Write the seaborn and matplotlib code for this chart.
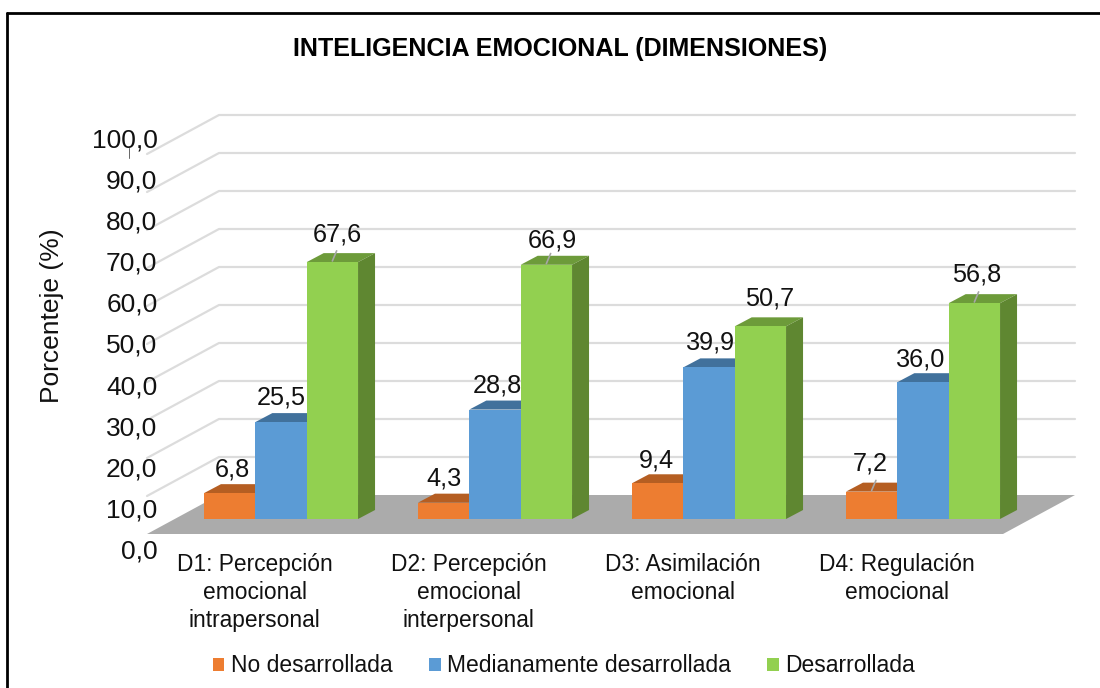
# inteligencia emocional por dimensiones, fake 3D columns on top of a seaborn barplot

import matplotlib
matplotlib.use("Agg")
import matplotlib.pyplot as plt
from matplotlib.lines import Line2D
from matplotlib.patches import Polygon
from matplotlib.transforms import ScaledTranslation
import pandas as pd
import seaborn as sns

categories = ["D1: Percepción\nemocional\nintrapersonal",
              "D2: Percepción\nemocional\ninterpersonal",
              "D3: Asimilación\nemocional",
              "D4: Regulación\nemocional"]
levels = ["No desarrollada", "Medianamente desarrollada", "Desarrollada"]
no_desarrollada = [6.8, 4.3, 9.4, 7.2]
medianamente = [25.5, 28.8, 39.9, 36.0]
desarrollada = [67.6, 66.9, 50.7, 56.8]
y_ticks = [0, 10, 20, 30, 40, 50, 60, 70, 80, 90, 100]

front_colors = ["#ED7D31", "#5B9BD5", "#92D050"]
top_colors = ["#B55E22", "#41719C", "#6D9B3A"]
side_colors = ["#B55E22", "#41719C", "#5F8731"]

# hand nudges for the data labels, pixels (right, down), one row per level
label_nudge = [[(1, 4), (-2, 4), (-3, 5), (-4, 0)],
               [(-2, 3), (0, 4), (-1, 3), (-4, 5)],
               [(3, 0), (4, 4), (7, 0), (0, -1)]]

W, H = 1100, 688
PX_X = 214.0  # pixels per category
PX_Y = 3.8    # pixels per percent
X0, Y0 = 281, 519  # pixel of category 0 centre, bar base
TEXT = "#111111"


def to_x(px):
    return (px - X0) / PX_X


def to_y(py):
    return (Y0 - py) / PX_Y


df = pd.DataFrame({
    "categoria": categories * 3,
    "nivel": [l for l in levels for _ in categories],
    "valor": no_desarrollada + medianamente + desarrollada,
})

sns.set_theme(style="white")
plt.rcParams["font.family"] = ["Liberation Sans", "DejaVu Sans"]

fig = plt.figure(figsize=(W / 100, H / 100), dpi=100)

left, right, bottom, top = 174, 1030, 534, 100
ax = fig.add_axes([left / W, 1 - bottom / H, (right - left) / W, (bottom - top) / H])
sns.barplot(data=df, x="categoria", y="valor", hue="nivel", hue_order=levels,
            palette=front_colors, width=0.72, gap=0, saturation=1, errorbar=None,
            linewidth=0, ax=ax, zorder=3)
ax.set_xlim(to_x(left), to_x(right))
ax.set_ylim(to_y(bottom), to_y(top))
ax.patch.set_visible(False)
sns.despine(ax=ax, left=True, bottom=True)
ax.set_xlabel("")
ax.set_ylabel("")
ax.set_yticks([])
ax.tick_params(axis="x", length=0, pad=13.6, labelsize=16.4, labelcolor=TEXT)
# category labels sit left of the bars, centred on the floor
shift = ScaledTranslation(-26.5 / 100, 0, fig.dpi_scale_trans)
for lab in ax.get_xticklabels():
    lab.set_linespacing(1.29)
    lab.set_transform(lab.get_transform() + shift)

# depth of the box and of the bars, in data units
bar_dx, bar_dy = 17 / PX_X, 9 / PX_Y
back_x0, back_x1 = to_x(219), to_x(1075)
front_x0, front_x1 = to_x(147), to_x(1003)
front_y0, back_y0 = to_y(534), to_y(495)

# walls and floor
for v in y_ticks[1:]:
    ax.plot([front_x0, back_x0, back_x1], [front_y0 + v, back_y0 + v, back_y0 + v],
            color="#DCDCDC", lw=1.6, clip_on=False, zorder=1)
ax.add_patch(Polygon([(front_x0, front_y0), (front_x1, front_y0), (back_x1, back_y0), (back_x0, back_y0)],
                     closed=True, fc="#ABABAB", ec="none", clip_on=False, zorder=1.5))

# top and side faces of each column
for i, cont in enumerate(ax.containers):
    for j, bar in enumerate(cont):
        x0, x1 = bar.get_x(), bar.get_x() + bar.get_width()
        h = bar.get_height()
        ax.add_patch(Polygon([(x0, h), (x1, h), (x1 + bar_dx, h + bar_dy), (x0 + bar_dx, h + bar_dy)],
                             closed=True, fc=top_colors[i], ec="none", clip_on=False, zorder=2))
        ax.add_patch(Polygon([(x1, 0), (x1 + bar_dx, bar_dy), (x1 + bar_dx, h + bar_dy), (x1, h)],
                             closed=True, fc=side_colors[i], ec="none", clip_on=False, zorder=2))
        nx, ny = label_nudge[i][j]
        label = f"{h:.1f}".replace(".", ",")
        ax.text(x0 + bar.get_width() / 2 + 0.01 + nx / PX_X, h + bar_dy + 1.8 - ny / PX_Y, label,
                ha="center", va="bottom", fontsize=18.2, color=TEXT, zorder=5)

# the small leader lines excel left behind
for i, j in [(2, 0), (2, 1), (2, 3), (0, 3)]:
    bar = ax.containers[i][j]
    xc = bar.get_x() + bar.get_width() / 2
    h = bar.get_height()
    ax.plot([xc, xc + 0.02], [h + 0.3, h + bar_dy + 0.6], color="#A6A6A6", lw=1.2, clip_on=False, zorder=4)

# y labels are spaced wider than the gridlines
ax_y = fig.add_axes([163 / W, 1 - 549 / H, 10 / W, (549 - 138) / H])
ax_y.patch.set_visible(False)
ax_y.set_ylim(0, 100)
ax_y.set_xticks([])
ax_y.set_yticks(y_ticks)
ax_y.set_yticklabels([f"{t:.1f}".replace(".", ",") for t in y_ticks], fontsize=19, color=TEXT)
ax_y.tick_params(axis="y", length=0, pad=4)
sns.despine(ax=ax_y, left=True, bottom=True)
fig.text(52 / W, 1 - 316 / H, "Porcenteje (%)", rotation=90, ha="center", va="center",
         fontsize=19, color=TEXT)

fig.text(560 / W, 1 - 49 / H, "INTELIGENCIA EMOCIONAL (DIMENSIONES)", ha="center", va="center",
         fontsize=18.1, fontweight="bold", color="black")

handles, labels = ax.get_legend_handles_labels()
ax.legend(handles, labels, loc="center", bbox_to_anchor=(564 / W, 1 - 666 / H), bbox_transform=fig.transFigure,
          ncol=3, frameon=False, fontsize=16.5, handlelength=0.5, handleheight=0.5,
          handletextpad=0.28, columnspacing=1.6, labelcolor=TEXT)

# outer frame, open on the right
fig.add_artist(Line2D([7 / W, 7 / W], [0, 1 - 13 / H], color="black", lw=2))
fig.add_artist(Line2D([7 / W, 1], [1 - 13 / H, 1 - 13 / H], color="black", lw=2))
fig.add_artist(Line2D([129 / W, 129 / W], [1 - 148 / H, 1 - 158 / H], color="#666666", lw=0.7))

fig.savefig("out.png", dpi=100)
